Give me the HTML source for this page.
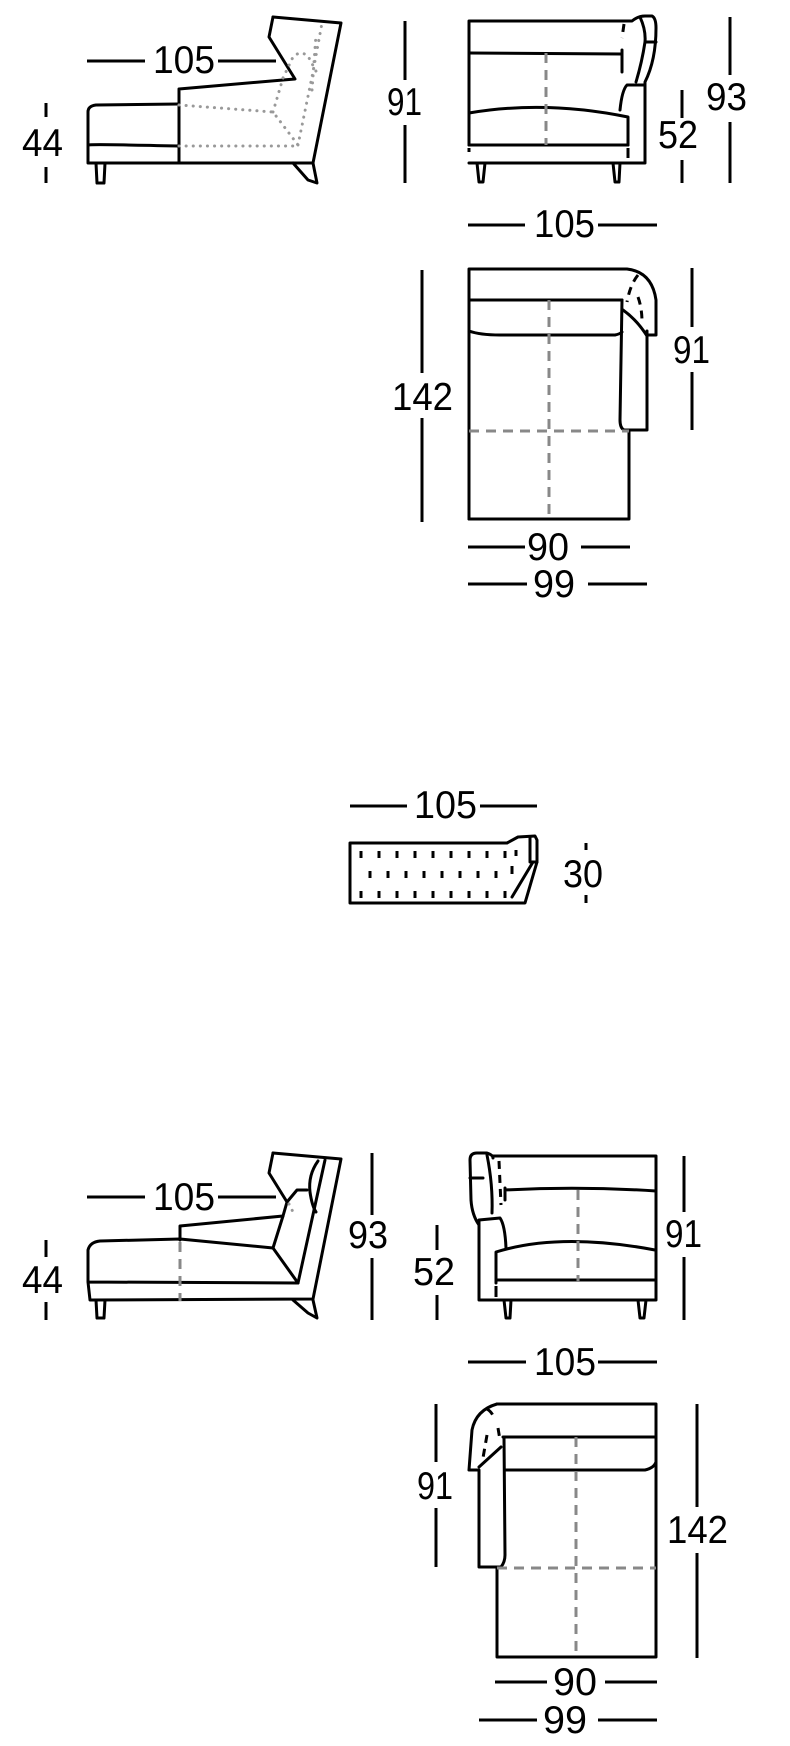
<!DOCTYPE html>
<html><head><meta charset="utf-8"><style>
html,body{margin:0;padding:0;background:#fff;}
svg{display:block;}
text{font-family:"Liberation Sans",sans-serif;font-size:39px;fill:#000;}
.k{fill:none;stroke:#000;stroke-width:3;stroke-linejoin:round;stroke-linecap:round;}
.d{fill:none;stroke:#000;stroke-width:3;}
.g{fill:none;stroke:#888;stroke-width:3;stroke-dasharray:10 7;}
.gd{fill:none;stroke:#999;stroke-width:3;stroke-dasharray:0.1 7;stroke-linecap:round;}
.kd{fill:none;stroke:#000;stroke-width:3;stroke-dasharray:8 6;}
</style></head><body>
<svg width="790" height="1746" viewBox="0 0 790 1746" xmlns="http://www.w3.org/2000/svg">

<!-- ===== TOP SIDE VIEW ===== -->
<line class="d" x1="87" y1="61" x2="145" y2="61"/>
<text x="153" y="73" textLength="62" lengthAdjust="spacingAndGlyphs">105</text>
<line class="d" x1="218" y1="61" x2="276" y2="61"/>
<text x="22" y="156" textLength="41" lengthAdjust="spacingAndGlyphs">44</text>
<line class="d" x1="46" y1="103" x2="46" y2="117"/>
<line class="d" x1="46" y1="167" x2="46" y2="183"/>
<path class="k" d="M273,17 L341,23 L313,163 L88,163 L88,112 Q88,106 96,105 L179,104"/>
<path class="k" d="M273,17 L269,37 L295,79 L283,80 L179,89 L179,163"/>
<path class="k" d="M88,145 Q92,144 179,146"/>
<path class="k" d="M96,163 L97,183 L104,183 L105,163"/>
<path class="k" d="M293,163 L308,180 L317,183 L313,163"/>
<path class="gd" d="M179,105 L273,112 L298,145 M179,146 L298,146 M273,112 L283,78 L293,57 Q300,50 308,56 L318,75 M298,145 L313,72 L322,23 M312,90 L316,35"/>

<!-- ===== TOP FRONT VIEW ===== -->
<text x="387" y="115" textLength="35" lengthAdjust="spacingAndGlyphs">91</text>
<line class="d" x1="405" y1="21" x2="405" y2="80"/>
<line class="d" x1="405" y1="125" x2="405" y2="183"/>
<text x="658" y="148" textLength="40" lengthAdjust="spacingAndGlyphs">52</text>
<line class="d" x1="682" y1="90" x2="682" y2="118"/>
<line class="d" x1="682" y1="160" x2="682" y2="183"/>
<text x="706" y="110" textLength="41" lengthAdjust="spacingAndGlyphs">93</text>
<line class="d" x1="730" y1="17" x2="730" y2="75"/>
<line class="d" x1="730" y1="122" x2="730" y2="183"/>
<path class="k" d="M469,145 L469,21 L632,21 Q638,16 645,16 L652,16 Q656,18 656,28 Q656,60 645,82 L645,163 L469,163"/>
<path class="k" d="M640,17 Q646,30 645,42 Q642,62 636,82"/>
<path class="k" d="M645,42 L656,42"/>
<path class="k" d="M645,85 L627,85 Q622,90 620,110"/>
<path class="k" d="M469,53 L622,54 M622,50 L622,72"/>
<path class="kd" d="M624,24 L622,38"/>
<path class="k" d="M469,113 Q545,100 628,117 L628,145"/>
<path class="k" d="M469,145 L628,145"/>
<path class="d" d="M469,148 L469,152 M628,148 L628,158" />
<path class="g" d="M546,53 L546,145"/>
<path class="k" d="M477,163 L479,182 L483,182 L485,163"/>
<path class="k" d="M613,163 L615,182 L619,182 L620,163"/>

<!-- ===== TOP PLAN VIEW ===== -->
<line class="d" x1="468" y1="225" x2="525" y2="225"/>
<text x="534" y="237" textLength="61" lengthAdjust="spacingAndGlyphs">105</text>
<line class="d" x1="598" y1="225" x2="657" y2="225"/>
<text x="392" y="410" textLength="61" lengthAdjust="spacingAndGlyphs">142</text>
<line class="d" x1="422" y1="270" x2="422" y2="373"/>
<line class="d" x1="422" y1="418" x2="422" y2="522"/>
<text x="673" y="363" textLength="37" lengthAdjust="spacingAndGlyphs">91</text>
<line class="d" x1="692" y1="268" x2="692" y2="327"/>
<line class="d" x1="692" y1="372" x2="692" y2="430"/>
<path class="k" d="M469,519 L469,269 L627,269 Q652,272 656,300 L656,335 L647,335 M647,331 L647,430 L624,430 Q620,428 620,420 L622,300"/>
<path class="k" d="M629,431 L629,519 L469,519"/>
<path class="k" d="M469,300 L622,300 M469,331 Q480,335 500,335 L615,335 Q620,334 622,332 M623,310 Q637,320 647,336"/>
<path class="kd" d="M638,275 Q630,285 627,302 M638,297 Q642,308 642,322"/>
<path class="g" d="M469,431 L629,431"/>
<path class="g" d="M549,300 L549,519"/>
<line class="d" x1="468" y1="547" x2="525" y2="547"/>
<text x="527" y="560" textLength="42" lengthAdjust="spacingAndGlyphs">90</text>
<line class="d" x1="581" y1="547" x2="630" y2="547"/>
<line class="d" x1="468" y1="584" x2="527" y2="584"/>
<text x="533" y="597" textLength="42" lengthAdjust="spacingAndGlyphs">99</text>
<line class="d" x1="588" y1="584" x2="647" y2="584"/>

<!-- ===== CUSHION ===== -->
<line class="d" x1="350" y1="806" x2="407" y2="806"/>
<text x="414" y="818" textLength="63" lengthAdjust="spacingAndGlyphs">105</text>
<line class="d" x1="480" y1="806" x2="537" y2="806"/>
<path class="k" d="M350,843 L507,843 L518,837 L535,836 L537,840 L537,862 L525,903 L350,903 Z"/>
<path class="k" d="M530,837 L530,862 L537,862 M533,862 L512,897"/>
<path fill="none" stroke="#000" stroke-width="3" d="M361,851 L361,858 M379,851 L379,858 M397,851 L397,858 M415,851 L415,858 M433,851 L433,858 M451,851 L451,858 M469,851 L469,858 M487,851 L487,858 M505,851 L505,858 M370,871 L370,878 M388,871 L388,878 M406,871 L406,878 M424,871 L424,878 M442,871 L442,878 M460,871 L460,878 M478,871 L478,878 M496,871 L496,878 M361,891 L361,898 M379,891 L379,898 M397,891 L397,898 M415,891 L415,898 M433,891 L433,898 M451,891 L451,898 M469,891 L469,898 M487,891 L487,898 M505,891 L505,898 M516,850 L516,856 M512,866 L512,874" />
<text x="563" y="887" textLength="40" lengthAdjust="spacingAndGlyphs">30</text>
<line class="d" x1="586" y1="843" x2="586" y2="850"/>
<line class="d" x1="586" y1="895" x2="586" y2="903"/>

<!-- ===== BOTTOM SIDE VIEW ===== -->
<line class="d" x1="87" y1="1197" x2="145" y2="1197"/>
<text x="153" y="1210" textLength="62" lengthAdjust="spacingAndGlyphs">105</text>
<line class="d" x1="218" y1="1197" x2="276" y2="1197"/>
<text x="22" y="1293" textLength="41" lengthAdjust="spacingAndGlyphs">44</text>
<line class="d" x1="46" y1="1240" x2="46" y2="1257"/>
<line class="d" x1="46" y1="1302" x2="46" y2="1320"/>
<text x="348" y="1248" textLength="40" lengthAdjust="spacingAndGlyphs">93</text>
<line class="d" x1="372" y1="1153" x2="372" y2="1215"/>
<line class="d" x1="372" y1="1258" x2="372" y2="1320"/>
<path class="k" d="M273,1153 L341,1159 L313,1299 L90,1300 L88,1282 L88,1250 Q90,1242 100,1241 L180,1239 L273,1248 L298,1283 L88,1282"/>
<path class="k" d="M273,1153 L269,1173 L287,1202 L297,1190 L307,1190"/>
<path class="k" d="M283,1216 L180,1226 L180,1240"/>
<path class="k" d="M273,1248 L283,1216 L287,1202"/>
<path class="k" d="M325,1160 L298,1283"/>
<path class="k" d="M318,1161 Q308,1175 310,1192 Q312,1206 316,1212"/>
<path class="g" d="M180,1242 L180,1301"/>
<path class="gd" d="M289,1204 L295,1216"/>
<path class="k" d="M96,1300 L97,1318 L104,1318 L105,1300"/>
<path class="k" d="M293,1300 L308,1313 L317,1318 L313,1300"/>

<!-- ===== BOTTOM FRONT VIEW ===== -->
<text x="413" y="1285" textLength="42" lengthAdjust="spacingAndGlyphs">52</text>
<line class="d" x1="437" y1="1225" x2="437" y2="1250"/>
<line class="d" x1="437" y1="1295" x2="437" y2="1320"/>
<text x="665" y="1247" textLength="37" lengthAdjust="spacingAndGlyphs">91</text>
<line class="d" x1="684" y1="1156" x2="684" y2="1212"/>
<line class="d" x1="684" y1="1257" x2="684" y2="1320"/>
<path class="k" d="M493,1156 L656,1156 L656,1300 L479,1300 L479,1225 Q472,1215 471,1200 L470,1160 Q470,1153 477,1153 L487,1153 Q493,1155 493,1158"/>
<path class="k" d="M487,1155 Q493,1185 492,1213"/>
<path class="k" d="M470,1178 L483,1178"/>
<path class="k" d="M479,1225 L479,1220 L500,1218 Q505,1225 506,1248"/>
<path class="k" d="M505,1190 Q580,1186 656,1191 M505,1188 L505,1200"/>
<path class="kd" d="M499,1161 L501,1205"/>
<path class="k" d="M496,1283 L496,1252 Q560,1232 655,1250"/>
<path class="k" d="M496,1280 L656,1280"/>
<path class="d" d="M496,1286 L496,1297 M656,1286 L656,1297"/>
<path class="g" d="M578,1190 L578,1282"/>
<path class="k" d="M504,1300 L506,1318 L510,1318 L511,1300"/>
<path class="k" d="M638,1300 L640,1318 L644,1318 L646,1300"/>

<!-- ===== BOTTOM PLAN VIEW ===== -->
<line class="d" x1="468" y1="1362" x2="526" y2="1362"/>
<text x="534" y="1375" textLength="62" lengthAdjust="spacingAndGlyphs">105</text>
<line class="d" x1="598" y1="1362" x2="657" y2="1362"/>
<text x="417" y="1499" textLength="36" lengthAdjust="spacingAndGlyphs">91</text>
<line class="d" x1="436" y1="1404" x2="436" y2="1462"/>
<line class="d" x1="436" y1="1508" x2="436" y2="1567"/>
<text x="667" y="1543" textLength="61" lengthAdjust="spacingAndGlyphs">142</text>
<line class="d" x1="697" y1="1404" x2="697" y2="1507"/>
<line class="d" x1="697" y1="1553" x2="697" y2="1658"/>
<path class="k" d="M497,1404 L656,1404 L656,1657 L497,1657 L497,1568"/>
<path class="k" d="M497,1404 Q476,1410 472,1430 L469,1470 L479,1470 L479,1567 L501,1567 Q505,1562 505,1555 L504,1437"/>
<path class="k" d="M479,1467 L501,1447"/>
<path class="k" d="M503,1437 L656,1437 M505,1470 L645,1470 Q654,1468 656,1462"/>
<path class="kd" d="M487,1409 Q492,1412 494,1418 M498,1428 L500,1440 M487,1435 L483,1458"/>
<path class="g" d="M497,1568 L656,1568"/>
<path class="g" d="M576,1437 L576,1657"/>
<line class="d" x1="495" y1="1682" x2="547" y2="1682"/>
<text x="553" y="1695" textLength="44" lengthAdjust="spacingAndGlyphs">90</text>
<line class="d" x1="605" y1="1682" x2="657" y2="1682"/>
<line class="d" x1="479" y1="1720" x2="537" y2="1720"/>
<text x="543" y="1733" textLength="44" lengthAdjust="spacingAndGlyphs">99</text>
<line class="d" x1="598" y1="1720" x2="657" y2="1720"/>

</svg>
</body></html>
